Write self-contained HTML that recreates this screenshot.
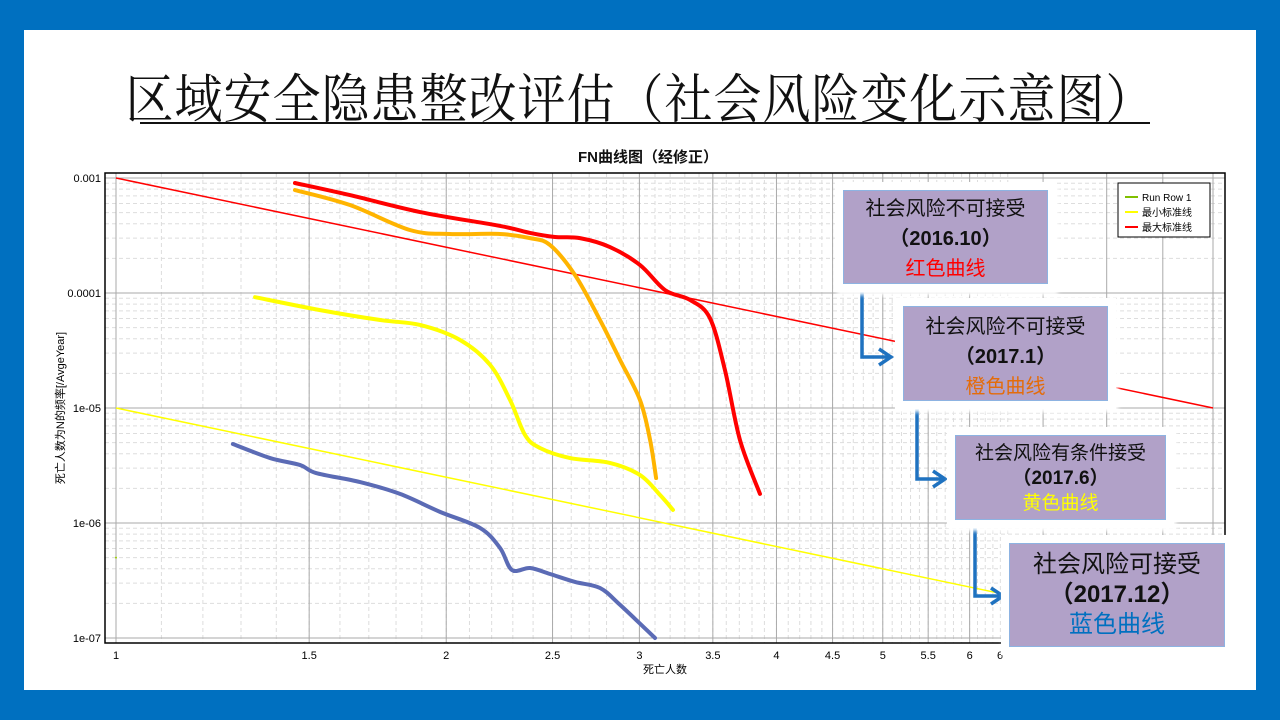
<!DOCTYPE html>
<html><head><meta charset="utf-8">
<style>
html,body{margin:0;padding:0;}
body{width:1280px;height:720px;background:#0070c0;position:relative;overflow:hidden;font-family:"Liberation Sans","Noto Sans CJK SC",sans-serif;}
#slide{position:absolute;left:24px;top:30px;width:1232px;height:660px;background:#fff;}
#title{position:absolute;left:0;top:73px;width:1280px;text-align:center;font-family:"Liberation Serif","Noto Serif CJK SC",serif;font-size:48px;line-height:56px;color:#111;transform:scaleY(1.1);letter-spacing:1px}
#uline{position:absolute;left:140px;top:122px;width:1010px;height:2px;background:#111}
.box{position:absolute;background:#b1a1c8;border:1.5px solid #8db3e2;box-shadow:0 0 0 8px #fff, 2px 3px 4px 8px rgba(255,255,255,1);text-align:center;font-family:"Liberation Sans","Noto Sans CJK SC",sans-serif;color:#111;}
.box .d{font-weight:bold}
</style></head>
<body>
<div id="slide"></div>
<div id="title">区域安全隐患整改评估（社会风险变化示意图）</div>
<div id="uline"></div>
<svg id="chart" width="1280" height="720" style="position:absolute;left:0;top:0"></svg>
<div class="box" style="left:843px;top:190px;width:205px;height:94px;font-size:20px;line-height:30px;padding-top:3px;box-sizing:border-box">社会风险不可接受<br><span class="d">（2016.10）</span><br><span style="color:#ff0000">红色曲线</span></div>
<div class="box" style="left:903px;top:306px;width:205px;height:95px;font-size:20px;line-height:30px;padding-top:5px;box-sizing:border-box">社会风险不可接受<br><span class="d">（2017.1）</span><br><span style="color:#e46c0a">橙色曲线</span></div>
<div class="box" style="left:955px;top:435px;width:211px;height:85px;font-size:19px;line-height:25px;padding-top:5px;box-sizing:border-box">社会风险有条件接受<br><span class="d">（2017.6）</span><br><span style="color:#ffff00">黄色曲线</span></div>
<div class="box" style="left:1009px;top:543px;width:216px;height:104px;font-size:24px;line-height:30px;padding-top:6px;box-sizing:border-box">社会风险可接受<br><span class="d">（2017.12）</span><br><span style="color:#0070c0">蓝色曲线</span></div>
<script>
const xTicks=[1,1.5,2,2.5,3,3.5,4,4.5,5,5.5,6];
const xTickLabels=["1","1.5","2","2.5","3","3.5","4","4.5","5","5.5","6"];
const yTicks=[0.001,0.0001,0.00001,0.000001,0.0000001];
const yTickLabels=["0.001","0.0001","1e-05","1e-06","1e-07"];
const maxLineN=[1,10];
const maxLineF=[0.001,0.00001];
const minLineN=[1,6.4];
const minLineF=[0.00001,0.000000244];
const redN=[1.456,1.634,1.893,2.239,2.385,2.513,2.648,2.82,3.004,3.166,3.336,3.478,3.59,3.705,3.864];
const redF=[9.05e-4,7.1e-4,5.06e-4,3.83e-4,3.33e-4,3.07e-4,3.0e-4,2.51e-4,1.75e-4,1.06e-4,8.7e-5,6.07e-5,2.14e-5,5.27e-6,1.79e-6];
const orangeN=[1.456,1.634,1.853,2.016,2.239,2.385,2.487,2.621,2.762,2.881,3.004,3.068,3.107];
const orangeF=[7.86e-4,5.82e-4,3.53e-4,3.26e-4,3.26e-4,3.0e-4,2.61e-4,1.43e-4,5.82e-5,2.61e-5,1.17e-5,5.27e-6,2.46e-6];
const yellowN=[1.339,1.535,1.741,1.893,2.059,2.193,2.287,2.36,2.435,2.594,2.82,3.004,3.133,3.219];
const yellowF=[9.2e-5,7.1e-5,5.82e-5,5.27e-5,3.9e-5,2.37e-5,1.17e-5,5.82e-6,4.49e-6,3.67e-6,3.33e-6,2.61e-6,1.75e-6,1.3e-6];
const blueN=[1.278,1.382,1.472,1.522,1.669,1.815,1.974,2.147,2.239,2.296,2.385,2.487,2.621,2.762,2.881,3.1];
const blueF=[4.86e-6,3.67e-6,3.19e-6,2.72e-6,2.27e-6,1.79e-6,1.25e-6,9.06e-7,6.07e-7,3.9e-7,4.06e-7,3.6e-7,3.07e-7,2.72e-7,1.94e-7,1e-7];
const runRowN=[1];
const runRowF=[5e-7];

const NS="http://www.w3.org/2000/svg";
const svg=document.getElementById('chart');
const L=105,T=173,R=1225,B=643;
function sx(n){return 116+1097*Math.log10(n);}
function sy(f){return 178+115*(-3-Math.log10(f));}
function mk(tag,attrs,parent){const e=document.createElementNS(NS,tag);for(const k in attrs)e.setAttribute(k,attrs[k]);(parent||svg).appendChild(e);return e;}

// chart title
let t=mk('text',{x:648,y:162,'text-anchor':'middle','font-size':15,'font-weight':'bold',fill:'#111'});


t.textContent='FN曲线图（经修正）';

const grid=mk('g',{});


// minor y grid
for(let e=-7;e<-3;e++){for(let m=2;m<=9;m++){const y=sy(m*Math.pow(10,e));mk('line',{x1:L,x2:R,y1:y,y2:y,stroke:'#ddd','stroke-dasharray':'4,3'},grid);}}
// minor x grid
for(let n=1.1;n<6.5;n+=0.1){const x=sx(n);if(x>R)break;mk('line',{x1:x,x2:x,y1:T,y2:B,stroke:'#ddd','stroke-dasharray':'4,3'},grid);}
// major grid
yTicks.forEach(v=>{const y=sy(v);mk('line',{x1:L,x2:R,y1:y,y2:y,stroke:'#aaa'},grid);});
xTicks.forEach(v=>{const x=sx(v);mk('line',{x1:x,x2:x,y1:T,y2:B,stroke:'#aaa'},grid);});
for(let n=7;n<=10;n++){const x=sx(n);if(x<R)mk('line',{x1:x,x2:x,y1:T,y2:B,stroke:'#aaa'},grid);}
// plot frame
const fr=mk('rect',{x:L,y:T,width:R-L,height:B-T,fill:'none',stroke:'#000','stroke-width':1.5});



// tick labels
yTicks.forEach((v,i)=>{const tx=mk('text',{x:L-4,y:sy(v)+4,'text-anchor':'end','font-size':11,fill:'#000'});


tx.textContent=yTickLabels[i];});
xTicks.forEach((v,i)=>{const tx=mk('text',{x:sx(v),y:659,'text-anchor':'middle','font-size':11,fill:'#000'});


tx.textContent=xTickLabels[i];});
let tx2=mk('text',{x:1000,y:659,'text-anchor':'middle','font-size':11,fill:'#000'});tx2.textContent='6';


let xt=mk('text',{x:665,y:673,'text-anchor':'middle','font-size':11,fill:'#000'});


xt.textContent='死亡人数';
let yt=mk('text',{x:0,y:0,'text-anchor':'middle','font-size':11,fill:'#000',transform:'translate(64,408) rotate(-90)'});


yt.textContent='死亡人数为N的频率[/AvgeYear]';

// lines
function straight(N,F,color,w,name){const p=mk('line',{x1:sx(N[0]),y1:sy(F[0]),x2:sx(N[1]),y2:sy(F[1]),stroke:color,'stroke-width':w});

}
straight(maxLineN,maxLineF,'#ff0000',1.5,'max-standard-line');
straight(minLineN,minLineF,'#ffff00',1.5,'min-standard-line');
function smooth(N,F,color,w,name){const pts=N.map((n,i)=>[sx(n),sy(F[i])]);let d='M'+pts[0][0]+','+pts[0][1];
for(let i=0;i<pts.length-1;i++){const p0=pts[Math.max(0,i-1)],p1=pts[i],p2=pts[i+1],p3=pts[Math.min(pts.length-1,i+2)];
const c1=[p1[0]+(p2[0]-p0[0])/6,p1[1]+(p2[1]-p0[1])/6],c2=[p2[0]-(p3[0]-p1[0])/6,p2[1]-(p3[1]-p1[1])/6];
d+=' C'+c1[0]+','+c1[1]+' '+c2[0]+','+c2[1]+' '+p2[0]+','+p2[1];}
const p=mk('path',{d:d,fill:'none',stroke:color,'stroke-width':w,'stroke-linecap':'round','stroke-linejoin':'round'});

}
smooth(yellowN,yellowF,'#ffff00',4,'curve-2017-6-yellow');
smooth(orangeN,orangeF,'#ffb400',4,'curve-2017-1-orange');
smooth(redN,redF,'#ff0000',4,'curve-2016-10-red');
smooth(blueN,blueF,'#5b6bb5',4,'curve-2017-12-blue');
runRowN.forEach((n,i)=>{const c=mk('circle',{cx:sx(n),cy:sy(runRowF[i]),r:1,fill:'#9c0'});

});

// legend
const lg=mk('g',{});


mk('rect',{x:1118,y:183,width:92,height:54,fill:'#fff',stroke:'#000'},lg);
[['Run Row 1','#80c000'],['最小标准线','#ffff00'],['最大标准线','#ff0000']].forEach((e,i)=>{
const y=197+i*15;mk('line',{x1:1125,x2:1138,y1:y,y2:y,stroke:e[1],'stroke-width':2},lg);
const tt=mk('text',{x:1142,y:y+4,'font-size':10,fill:'#000'},lg);


tt.textContent=e[0];});

// arrows
function arrow(x,y1,y2,x2,name){const g=mk('g',{});


mk('path',{d:`M${x},${y1} V${y2} H${x2-2}`,fill:'none',stroke:'#1f72c0','stroke-width':3.5},g);
mk('path',{d:`M${x2-12},${y2-8} L${x2},${y2} L${x2-12},${y2+8}`,fill:'none',stroke:'#1f72c0','stroke-width':3.5},g);}
arrow(862,287,357,891,'arrow-to-2017-1');
arrow(917,408,479,945,'arrow-to-2017-6');
arrow(975,527,596,1003,'arrow-to-2017-12');
</script>
</body></html>
